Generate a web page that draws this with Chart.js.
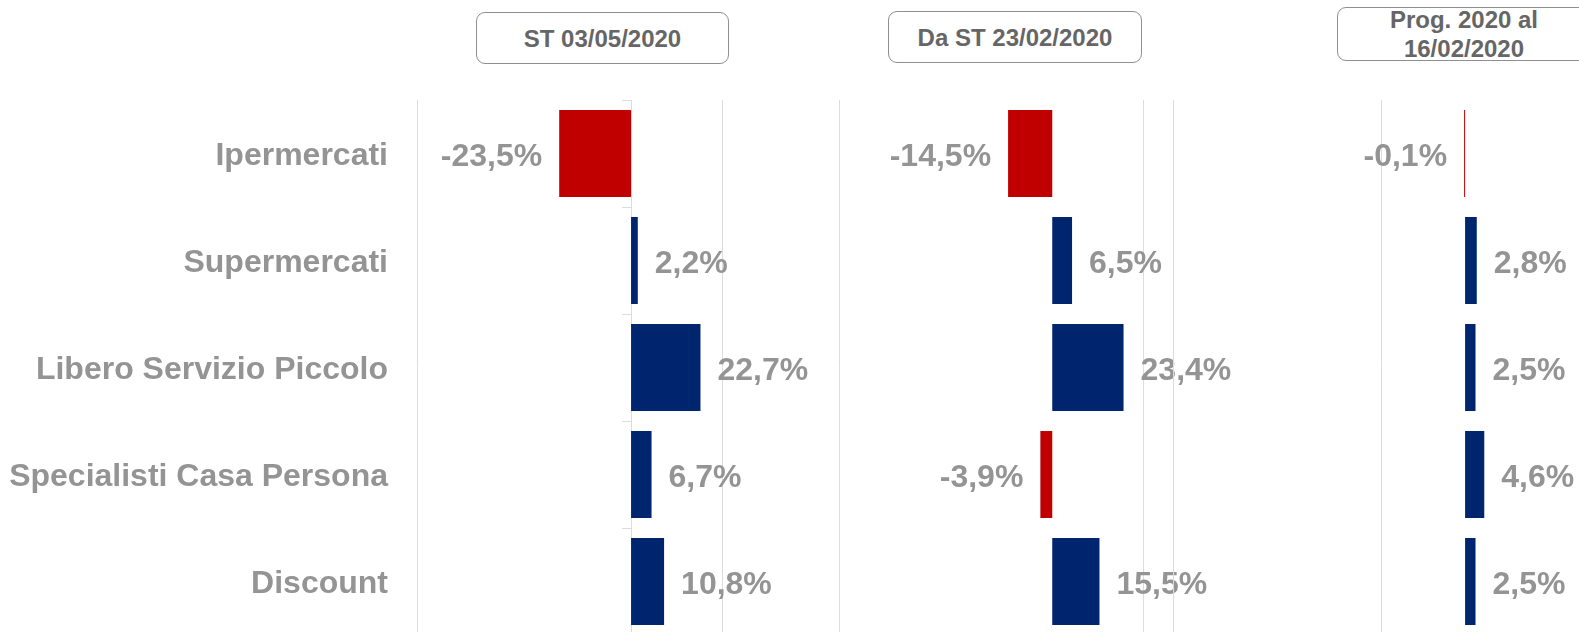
<!DOCTYPE html>
<html>
<head>
<meta charset="utf-8">
<script src="https://cdn.jsdelivr.net/npm/chart.js@4/dist/chart.umd.min.js"></script>
<style>
  html, body { margin: 0; padding: 0; background: #fff; overflow: hidden; }
  body { width: 1579px; height: 632px; position: relative; font-family: 'Liberation Sans', Arial, sans-serif; }
  .panel { position: absolute; top: 0; height: 640px; }
  .tbox {
    position: absolute; box-sizing: border-box; border: 1px solid #8f8f8f; border-radius: 9px;
    display: flex; align-items: center; justify-content: center; text-align: center;
    font-weight: bold; font-size: 24px; line-height: 29px; color: #666;
  }
</style>
</head>
<body>
<div class="tbox" id="t1" style="left:476px; top:12px; width:253px; height:52px;"></div>
<div class="tbox" id="t2" style="left:888px; top:11px; width:254px; height:52px;"></div>
<div class="tbox" id="t3" style="left:1337px; top:7px; width:254px; height:54px;"></div>
<div class="panel" style="left:0; width:840px;"><canvas id="c1"></canvas></div>
<div class="panel" style="left:839px; width:400px;"><canvas id="c2"></canvas></div>
<div class="panel" style="left:1173px; width:406px;"><canvas id="c3"></canvas></div>
<script>
(function(){
    // data
    const categories = ['Ipermercati', 'Supermercati', 'Libero Servizio Piccolo', 'Specialisti Casa Persona', 'Discount'];
    const st0305 = [-23.5, 2.2, 22.7, 6.7, 10.8];
    const daSt2302 = [-14.5, 6.5, 23.4, -3.9, 15.5];
    const prog2020 = [-0.1, 2.8, 2.5, 4.6, 2.5];
    const panelTitles = ['ST 03/05/2020', 'Da ST 23/02/2020', ['Prog. 2020 al', '16/02/2020']];
    const gridTicks1 = [-70, 30];
    const gridTicks2 = [-70, 30];
    const gridTicks3 = [-70, -20];

    const blue = '#00256F';
    const red = '#C00000';
    const labelGray = '#949494';
    const gridGray = '#dcdcdc';
    const FONT = "'Liberation Sans', Arial, sans-serif";

    Chart.defaults.font.family = FONT;
    Chart.defaults.animation = false;

    // title boxes
    document.getElementById('t1').textContent = panelTitles[0];
    document.getElementById('t2').textContent = panelTitles[1];
    document.getElementById('t3').innerHTML = panelTitles[2].join('<br>');

    function fmt(v)
    {
        return v.toFixed(1).replace('.', ',') + '%';
    }

    const valueLabels = {
        id: 'valueLabels',
        afterDatasetsDraw(chart) {
            const ctx = chart.ctx;
            const meta = chart.getDatasetMeta(0);
            const values = chart.data.datasets[0].data;
            ctx.save();
            ctx.font = 'bold 32px ' + FONT;
            ctx.fillStyle = labelGray;
            ctx.textBaseline = 'middle';
            meta.data.forEach(function(bar, i){
                const v = values[i];
                if (v >= 0) {
                    ctx.textAlign = 'left';
                    ctx.fillText(fmt(v), bar.x + 17, bar.y + 4);
                } else {
                    ctx.textAlign = 'right';
                    ctx.fillText(fmt(v), bar.x - 17, bar.y + 4);
                }
            });
            ctx.restore();
        }
    };

    function makeChart(id, values, min, max, gridTicks, padding, showCategories)
    {
        const scales = {
            x: {
                type: 'linear',
                min: min,
                max: max,
                afterBuildTicks: function(scale){
                    scale.ticks = gridTicks.map(v => ({value: v}));
                },
                afterFit: function(scale){
                    scale.height = 0;
                    scale.paddingLeft = 0;
                    scale.paddingRight = 0;
                },
                ticks: {display: false},
                grid: {color: gridGray, lineWidth: 1, drawTicks: false},
                border: {display: false}
            },
            y: {
                type: 'category',
                display: showCategories,
                offset: true,
                grid: {display: false, drawTicks: false, offset: true},
                border: {display: false},
                ticks: {
                    color: labelGray,
                    padding: 29,
                    labelOffset: 3,
                    font: {size: 32, weight: 'bold', family: FONT}
                },
                afterFit: function(scale){
                    if (showCategories) scale.width = 417;
                    scale.paddingTop = 0;
                    scale.paddingBottom = 0;
                }
            }
        };
        if (showCategories) {
            // vertical axis crossing at zero with small tick marks
            scales.y2 = {
                type: 'category',
                position: {x: 0},
                offset: true,
                ticks: {display: false},
                grid: {offset: true, drawOnChartArea: false, tickLength: 9, color: gridGray, lineWidth: 1},
                border: {display: true, color: gridGray, width: 1},
                afterFit: function(scale){
                    scale.paddingTop = 0;
                    scale.paddingBottom = 0;
                }
            };
        }
        return new Chart(document.getElementById(id), {
            type: 'bar',
            data: {
                labels: categories,
                datasets: [{
                    data: values,
                    backgroundColor: values.map(v => v < 0 ? red : blue),
                    borderWidth: 0,
                    categoryPercentage: 1,
                    barPercentage: 0.813,
                    minBarLength: 1
                }]
            },
            options: {
                indexAxis: 'y',
                responsive: true,
                maintainAspectRatio: false,
                layout: {padding: padding},
                plugins: {legend: {display: false}, tooltip: {enabled: false}},
                scales: scales
            },
            plugins: [valueLabels]
        });
    }

    makeChart('c1', st0305, -70, 68.0, gridTicks1, {top: 100, bottom: 5, left: 0, right: 1}, true);
    makeChart('c2', daSt2302, -70, 61.3, gridTicks2, {top: 100, bottom: 5, left: 0, right: 0}, false);
    makeChart('c3', prog2020, -70, 27.3, gridTicks3, {top: 100, bottom: 5, left: 0, right: 0}, false);
})()
</script>
</body>
</html>
